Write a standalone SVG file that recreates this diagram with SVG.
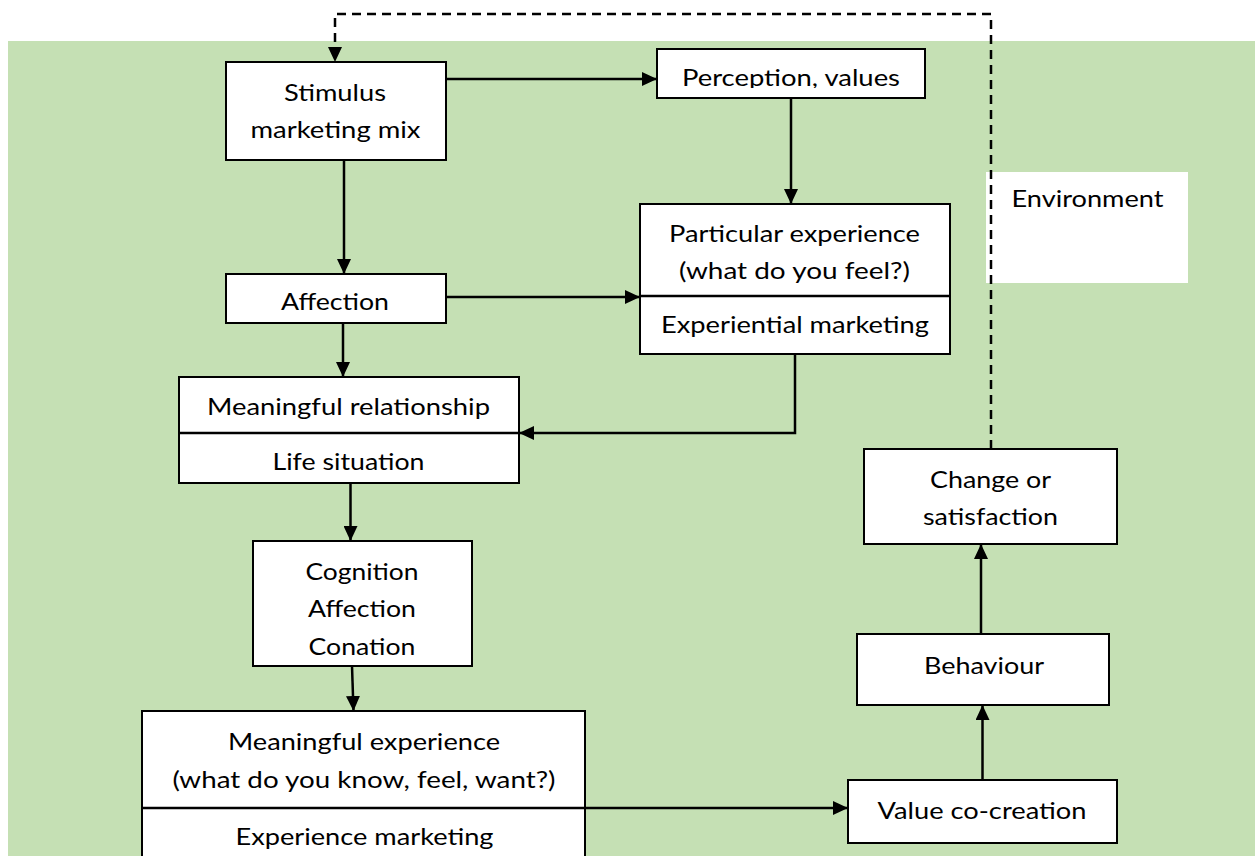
<svg xmlns="http://www.w3.org/2000/svg" width="1255" height="856" viewBox="0 0 1255 856">
  <style>
    .box { fill: #ffffff; stroke: #000000; stroke-width: 2; }
    .div { stroke: #000000; stroke-width: 2.5; }
    .lbl { font-family: Lato, "Open Sans", "Liberation Sans", sans-serif; font-size: 24px; fill: #000000; text-anchor: middle; }
    .link { fill: none; stroke: #000000; stroke-width: 2.5; marker-end: url(#head); }
    .dash { fill: none; stroke: #000000; stroke-width: 2.5; stroke-dasharray: 9 6; marker-end: url(#head); }
  </style>
  <defs>
    <marker id="head" markerUnits="userSpaceOnUse" markerWidth="16" markerHeight="14" refX="15" refY="7" orient="auto">
      <path d="M0,0 L15,7 L0,14 z" fill="#000000"/>
    </marker>
    <clipPath id="percClip">
      <rect x="658" y="50" width="266" height="38"/>
    </clipPath>
  </defs>

  <!-- page background and shaded panel -->
  <rect x="0" y="0" width="1255" height="856" fill="#ffffff"/>
  <rect x="8" y="41" width="1247" height="815" fill="#C5E0B4"/>

  <!-- environment label panel -->
  <g id="environment">
    <rect x="986" y="172" width="202" height="111" fill="#ffffff"/>
    <text class="lbl" x="1087.5" y="207" textLength="152" lengthAdjust="spacingAndGlyphs">Environment</text>
  </g>

  <g id="connectors">
    <path class="link" d="M446,79 H657"/>
    <path class="link" d="M344,160 V274"/>
    <path class="link" d="M791,98 V204"/>
    <path class="link" d="M446,297 H640"/>
    <path class="link" d="M343,323 V377"/>
    <path class="link" d="M795,354 V433 H519"/>
    <path class="link" d="M350.5,483 V541"/>
    <path class="link" d="M352,666 L353.5,711"/>
    <path class="link" d="M585,808 H848"/>
    <path class="link" d="M982.5,780 V705"/>
    <path class="link" d="M981,634 V544"/>
    <path class="dash" d="M991,449 V14 H335 V62"/>
  </g>

  <g id="stimulus">
    <rect class="box" x="226" y="62" width="220" height="98"/>
    <text class="lbl" x="335" y="100.5" textLength="102" lengthAdjust="spacingAndGlyphs">Stimulus</text>
    <text class="lbl" x="335.5" y="138" textLength="170" lengthAdjust="spacingAndGlyphs">marketing mix</text>
  </g>

  <g id="perception">
    <rect class="box" x="657" y="49" width="268" height="49"/>
    <text class="lbl" x="791" y="86" textLength="218" lengthAdjust="spacingAndGlyphs" clip-path="url(#percClip)">Perception, values</text>
  </g>

  <g id="particular-experience">
    <rect class="box" x="640" y="204" width="310" height="150"/>
    <line class="div" x1="640" y1="296" x2="950" y2="296"/>
    <text class="lbl" x="794.5" y="241.5" textLength="251" lengthAdjust="spacingAndGlyphs">Particular experience</text>
    <text class="lbl" x="794.5" y="279" textLength="231" lengthAdjust="spacingAndGlyphs">(what do you feel?)</text>
    <text class="lbl" x="795" y="333" textLength="268" lengthAdjust="spacingAndGlyphs">Experiential marketing</text>
  </g>

  <g id="affection">
    <rect class="box" x="226" y="274" width="220" height="49"/>
    <text class="lbl" x="335" y="309.5" textLength="108" lengthAdjust="spacingAndGlyphs">Affection</text>
  </g>

  <g id="meaningful-relationship">
    <rect class="box" x="179" y="377" width="340" height="106"/>
    <line class="div" x1="179" y1="433" x2="519" y2="433"/>
    <text class="lbl" x="348.5" y="415" textLength="283" lengthAdjust="spacingAndGlyphs">Meaningful relationship</text>
    <text class="lbl" x="348.5" y="470" textLength="152" lengthAdjust="spacingAndGlyphs">Life situation</text>
  </g>

  <g id="cognition">
    <rect class="box" x="253" y="541" width="219" height="125"/>
    <text class="lbl" x="362" y="579.5" textLength="113" lengthAdjust="spacingAndGlyphs">Cognition</text>
    <text class="lbl" x="362" y="616.5" textLength="108" lengthAdjust="spacingAndGlyphs">Affection</text>
    <text class="lbl" x="362" y="654.5" textLength="107" lengthAdjust="spacingAndGlyphs">Conation</text>
  </g>

  <g id="meaningful-experience">
    <rect class="box" x="142" y="711" width="443" height="170"/>
    <line class="div" x1="142" y1="808" x2="585" y2="808"/>
    <text class="lbl" x="364" y="750" textLength="272" lengthAdjust="spacingAndGlyphs">Meaningful experience</text>
    <text class="lbl" x="364" y="788" textLength="383" lengthAdjust="spacingAndGlyphs">(what do you know, feel, want?)</text>
    <text class="lbl" x="364.5" y="845" textLength="258" lengthAdjust="spacingAndGlyphs">Experience marketing</text>
  </g>

  <g id="change">
    <rect class="box" x="864" y="449" width="253" height="95"/>
    <text class="lbl" x="990.5" y="487.5" textLength="121" lengthAdjust="spacingAndGlyphs">Change or</text>
    <text class="lbl" x="990.5" y="525" textLength="135" lengthAdjust="spacingAndGlyphs">satisfaction</text>
  </g>

  <g id="behaviour">
    <rect class="box" x="857" y="634" width="252" height="71"/>
    <text class="lbl" x="984" y="673.5" textLength="120" lengthAdjust="spacingAndGlyphs">Behaviour</text>
  </g>

  <g id="value-co-creation">
    <rect class="box" x="848" y="780" width="269" height="63"/>
    <text class="lbl" x="982" y="818.5" textLength="209" lengthAdjust="spacingAndGlyphs">Value co-creation</text>
  </g>
</svg>
